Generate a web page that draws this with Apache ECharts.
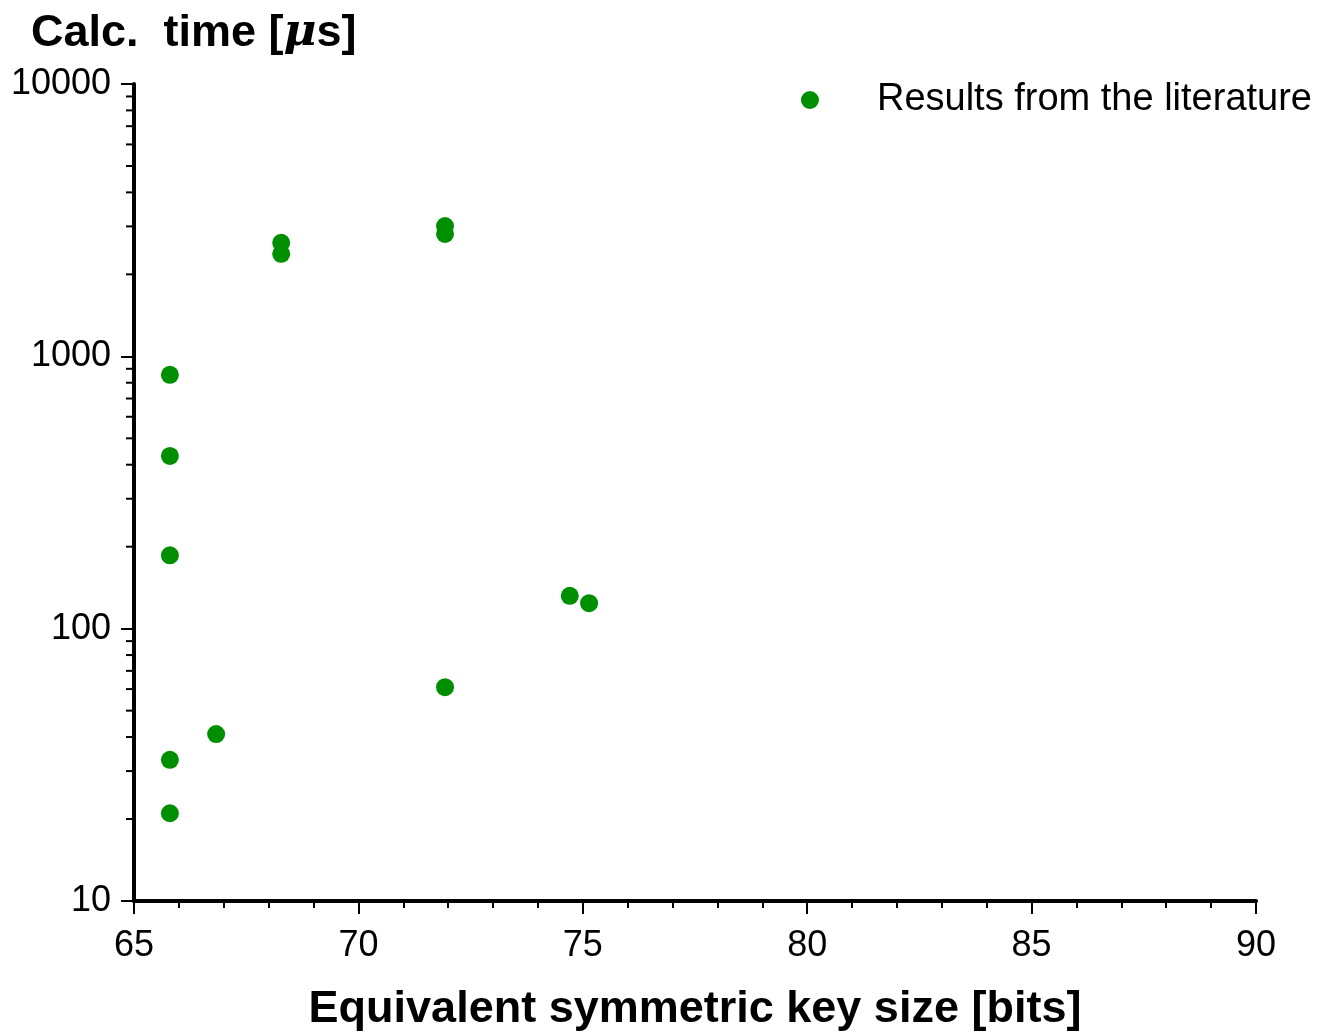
<!DOCTYPE html>
<html>
<head>
<meta charset="utf-8">
<script src="https://cdn.jsdelivr.net/npm/echarts@6/dist/echarts.min.js"></script>
<style>html,body{margin:0;padding:0;background:#fff;}#c{width:1322px;height:1036px;}</style>
</head>
<body>
<div id="c"></div>
<script>
const keySizes = [65.8, 65.8, 65.8, 65.8, 65.8, 66.83, 68.28, 68.28, 71.93, 71.93, 71.93, 74.71, 75.14];
const calcTimes = [855, 431, 186, 33, 21, 41, 2610, 2380, 3010, 2815, 61, 132, 124];
const yMinorTicks = [20,30,40,50,60,70,80,90,200,300,400,500,600,700,800,900,2000,3000,4000,5000,6000,7000,8000,9000];
const seriesName = 'Results from the literature';
const xTitle = 'Equivalent symmetric key size [bits]';

const FONT = 'Liberation Sans';
const chart = echarts.init(document.getElementById('c'));
chart.setOption({
  animation: false,
  backgroundColor: '#fff',
  title: {
    text: '{b|Calc.  time [}{i|μ}{b|s]}',
    left: 26, top: 6,
    textStyle: {
      rich: {
        b: {fontFamily: FONT, fontWeight: 'bold', fontSize: 45, color: '#000'},
        i: {fontFamily: 'DejaVu Serif', fontStyle: 'italic', fontSize: 45, color: '#000'}
      }
    }
  },
  legend: {
    right: 5, top: 76,
    icon: 'circle', itemWidth: 18, itemHeight: 18,
    textStyle: {fontFamily: FONT, fontSize: 38, color: '#000', padding: [0, 0, 0, 53]},
    data: [seriesName]
  },
  grid: {left: 134, right: 66, top: 84, bottom: 135, containLabel: false, outerBoundsMode: 'none'},
  xAxis: {
    type: 'value', min: 65, max: 90, interval: 5,
    name: xTitle, nameLocation: 'middle', nameGap: 86,
    nameTextStyle: {fontFamily: FONT, fontWeight: 'bold', fontSize: 45, color: '#000'},
    axisLine: {show: true, onZero: false, lineStyle: {color: '#000', width: 4}},
    axisTick: {show: true, inside: false, length: 13, lineStyle: {color: '#000', width: 2}},
    minorTick: {show: true, splitNumber: 5, length: 7, lineStyle: {color: '#000', width: 2}},
    axisLabel: {fontFamily: FONT, fontSize: 36, color: '#000', margin: 27},
    splitLine: {show: false}
  },
  yAxis: {
    type: 'log', logBase: 10, min: 10, max: 10000,
    axisLine: {show: true, onZero: false, lineStyle: {color: '#000', width: 4}},
    axisTick: {show: true, inside: false, length: 13, lineStyle: {color: '#000', width: 2}},
    axisLabel: {fontFamily: FONT, fontSize: 36, color: '#000', margin: 23,
      formatter: function (v) { return String(Math.round(v)); }},
    splitLine: {show: false}
  },
  series: [
    {
      name: seriesName,
      type: 'scatter',
      symbol: 'circle',
      symbolSize: 18,
      itemStyle: {color: '#008f00', opacity: 1},
      data: keySizes.map((x, i) => [x, calcTimes[i]])
    },
    {
      type: 'custom',
      silent: true,
      clip: false,
      data: yMinorTicks.map(v => [65, v]),
      renderItem: function (params, api) {
        const p = api.coord([api.value(0), api.value(1)]);
        return {
          type: 'line',
          shape: {x1: p[0] - 8, y1: p[1], x2: p[0], y2: p[1]},
          style: {stroke: '#000', lineWidth: 2}
        };
      }
    }
  ]
});
</script>
</body>
</html>
